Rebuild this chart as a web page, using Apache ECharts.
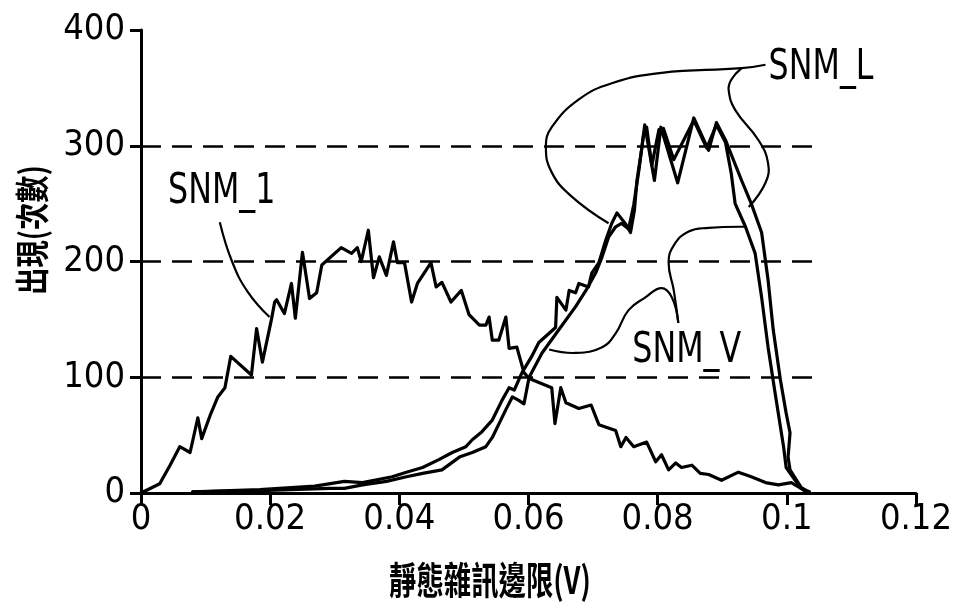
<!DOCTYPE html>
<html>
<head>
<meta charset="utf-8">
<script src="https://cdn.jsdelivr.net/npm/echarts@6/dist/echarts.min.js"></script>
<style>
html,body{margin:0;padding:0;background:#fff;}
#chart{width:955px;height:611px;}
</style>
</head>
<body>
<div id="chart"></div>
<script>
// ---- data (x in volts, y in occurrences) ----
var xTickLabels = ['0', '0.02', '0.04', '0.06', '0.08', '0.1', '0.12'];
var yTickLabels = ['0', '100', '200', '300', '400'];
var gridLevels = [100, 200, 300];

var snm1X = [0, 0.0029, 0.0045, 0.0060, 0.0076, 0.0088, 0.0094, 0.0107, 0.0119, 0.0130, 0.0139, 0.0171, 0.0179, 0.0188, 0.0202, 0.0207, 0.0210, 0.0222, 0.0233, 0.0239, 0.0250, 0.0261, 0.0272, 0.0280, 0.0310, 0.0326, 0.0335, 0.0341, 0.0352, 0.0360, 0.0369, 0.0380, 0.0391, 0.0397, 0.0408, 0.0419, 0.0428, 0.0442, 0.0449, 0.0457, 0.0466, 0.0480, 0.0496, 0.0508, 0.0524, 0.0534, 0.0539, 0.0544, 0.0554, 0.0565, 0.0570, 0.0582, 0.0593, 0.0601, 0.0636, 0.0641, 0.0650, 0.0658, 0.0678, 0.0697, 0.0709, 0.0735, 0.0743, 0.0751, 0.0763, 0.0783, 0.0797, 0.0806, 0.0817, 0.0828, 0.0837, 0.0853, 0.0866, 0.0879, 0.0899, 0.0925, 0.0945, 0.0967, 0.0987, 0.1007, 0.1022, 0.1035];
var snm1Y = [0, 8, 24, 40, 35, 65, 47, 67, 83, 91, 118, 102, 142, 113, 150, 165, 167, 155, 181, 151, 208, 168, 173, 197, 212, 207, 212, 200, 227, 186, 204, 188, 217, 199, 199, 165, 181, 193, 199, 178, 182, 165, 175, 154, 145, 145, 152, 132, 132, 152, 125, 126, 104, 99, 91, 60, 91, 78, 73, 76, 59, 54, 40, 48, 40, 44, 27, 33, 20, 26, 22, 24, 17, 16, 11, 18, 14, 9, 7, 9, 4, 1];

var snmVX = [0.0080, 0.0184, 0.0292, 0.0315, 0.0343, 0.0380, 0.0411, 0.0436, 0.0466, 0.0493, 0.0513, 0.0534, 0.0544, 0.0565, 0.0575, 0.0585, 0.0593, 0.0601, 0.0621, 0.0647, 0.0673, 0.0689, 0.0704, 0.0714, 0.0724, 0.0735, 0.0744, 0.0755, 0.0763, 0.0771, 0.0778, 0.0783, 0.0791, 0.0802, 0.0809, 0.0825, 0.0856, 0.0876, 0.0891, 0.0905, 0.0914, 0.0920, 0.0936, 0.0951, 0.0961, 0.0971, 0.0982, 0.0995, 0.0999, 0.1013, 0.1022, 0.1030];
var snmVY = [1, 2, 4, 4, 7, 10, 14, 17, 20, 31, 35, 40, 48, 72, 83, 80, 77, 100, 121, 141, 161, 175, 190, 204, 221, 230, 233, 228, 249, 279, 309, 316, 283, 314, 315, 288, 322, 298, 318, 303, 276, 250, 230, 207, 169, 126, 86, 40, 22, 11, 4, 1];

var snmLX = [0.0080, 0.0184, 0.0269, 0.0315, 0.0343, 0.0389, 0.0411, 0.0436, 0.0462, 0.0482, 0.0503, 0.0513, 0.0528, 0.0544, 0.0559, 0.0570, 0.0578, 0.0590, 0.0605, 0.0616, 0.0642, 0.0644, 0.0658, 0.0663, 0.0673, 0.0678, 0.0693, 0.0698, 0.0709, 0.0720, 0.0729, 0.0737, 0.0751, 0.0758, 0.0764, 0.0768, 0.0775, 0.0780, 0.0795, 0.0805, 0.0831, 0.0856, 0.0879, 0.0891, 0.0905, 0.0930, 0.0945, 0.0961, 0.0971, 0.0979, 0.0990, 0.0999, 0.1005, 0.1002, 0.1005, 0.1022, 0.1030];
var snmLY = [1, 3, 6, 10, 9, 14, 18, 22, 29, 35, 40, 46, 53, 63, 80, 91, 89, 104, 118, 130, 143, 169, 158, 175, 173, 181, 178, 190, 199, 219, 233, 242, 232, 225, 244, 270, 296, 318, 270, 316, 268, 324, 296, 320, 305, 270, 250, 225, 184, 141, 98, 69, 52, 31, 20, 5, 2];

// annotation labels and leader curves (data units)
var labelNames = ['SNM_1', 'SNM_L', 'SNM_V'];
var labelPos = [[0.0125, 260], [0.1053, 367], [0.0845, 123]];
var leaders = [
  [[0.0122, 234], [0.0141, 200], [0.0165, 174], [0.0199, 152]],
  [[0.0967, 370], [0.0930, 367], [0.0806, 363], [0.0729, 354], [0.0678, 340], [0.0636, 316], [0.0627, 299], [0.0636, 277], [0.0667, 256], [0.0724, 233]],
  [[0.0930, 367], [0.0914, 357], [0.0910, 348], [0.0920, 331], [0.0956, 305], [0.0971, 285], [0.0967, 268], [0.0941, 247]],
  [[0.0632, 124], [0.0673, 121], [0.0714, 126], [0.0735, 138], [0.0755, 158], [0.0781, 169], [0.0806, 177], [0.0822, 169], [0.0832, 147]],
  [[0.0832, 147], [0.0825, 175], [0.0817, 199], [0.0825, 214], [0.0848, 226], [0.0879, 229], [0.0934, 230]]
];
var gridEndX = 0.1056;
var xTitle = '靜態雜訊邊限(V)';
var yTitle = '出現(次數)';

function zip(xs, ys) { return xs.map(function (x, i) { return [x, ys[i]]; }); }

var NUM_FONT = "'Liberation Sans Narrow', 'Arial Narrow', 'DejaVu Sans Condensed', sans-serif";
var CJK_FONT = "'Noto Sans CJK TC', 'Noto Sans CJK SC', sans-serif";

var chart = echarts.init(document.getElementById('chart'), null, { renderer: 'canvas' });

var lineStyleMain = { color: '#000', width: 3.2, join: 'round', cap: 'round' };

var option = {
  animation: false,
  backgroundColor: '#fff',
  grid: { left: 141, right: 37, top: 30, bottom: 118 },
  xAxis: {
    type: 'value', min: 0, max: 0.12, interval: 0.02,
    axisLine: { show: true, onZero: false, lineStyle: { color: '#000', width: 3 } },
    axisTick: { show: true, length: 12, lineStyle: { color: '#000', width: 3 } },
    splitLine: { show: false },
    axisLabel: {
      color: '#000', fontSize: 36, fontFamily: NUM_FONT, margin: 9,
      formatter: function (v) { return xTickLabels[Math.round(v / 0.02)]; }
    }
  },
  yAxis: {
    type: 'value', min: 0, max: 400, interval: 100,
    axisLine: { show: true, onZero: false, lineStyle: { color: '#000', width: 3 } },
    axisTick: { show: true, length: 11, lineStyle: { color: '#000', width: 3 } },
    splitLine: { show: false },
    axisLabel: {
      color: '#000', fontSize: 36, fontFamily: NUM_FONT, margin: 16,
      formatter: function (v) { return yTickLabels[Math.round(v / 100)]; }
    }
  },
  series: [
    {
      name: 'grid', type: 'line', data: [], silent: true,
      markLine: {
        silent: true, symbol: ['none', 'none'], label: { show: false },
        lineStyle: { color: '#000', width: 2.5, type: [20, 11] },
        data: gridLevels.map(function (g) { return [{ coord: [0, g] }, { coord: [gridEndX, g] }]; })
      }
    },
    { name: 'SNM_1', type: 'line', data: zip(snm1X, snm1Y), showSymbol: false, symbol: 'none', lineStyle: lineStyleMain, z: 3 },
    { name: 'SNM_V', type: 'line', data: zip(snmVX, snmVY), showSymbol: false, symbol: 'none', lineStyle: lineStyleMain, z: 3 },
    { name: 'SNM_L', type: 'line', data: zip(snmLX, snmLY), showSymbol: false, symbol: 'none', lineStyle: lineStyleMain, z: 3 }
  ]
};
chart.setOption(option);

function px(p) { return chart.convertToPixel({ xAxisIndex: 0, yAxisIndex: 0 }, p); }

var graphics = [];
leaders.forEach(function (pts) {
  graphics.push({
    type: 'polyline', silent: true, z: 5,
    shape: { points: pts.map(px), smooth: 0.45 },
    style: { stroke: '#000', lineWidth: 2.2, fill: null }
  });
});
labelNames.forEach(function (name, i) {
  var p = px(labelPos[i]);
  graphics.push({
    type: 'text', x: p[0], y: p[1], scaleX: 0.84, z: 6,
    style: { text: name, fill: '#000', font: "42px " + NUM_FONT, align: 'center', verticalAlign: 'middle' }
  });
});
graphics.push({
  type: 'text', x: 490, y: 580, scaleX: 0.72, z: 6,
  style: { text: xTitle, fill: '#000', font: "bold 38px " + CJK_FONT, align: 'center', verticalAlign: 'middle' }
});
graphics.push({
  type: 'text', x: 32, y: 230, rotation: Math.PI / 2, scaleX: 0.8, z: 6,
  style: { text: yTitle, fill: '#000', font: "bold 34px " + CJK_FONT, align: 'center', verticalAlign: 'middle' }
});
chart.setOption({ graphic: graphics });
</script>
</body>
</html>
